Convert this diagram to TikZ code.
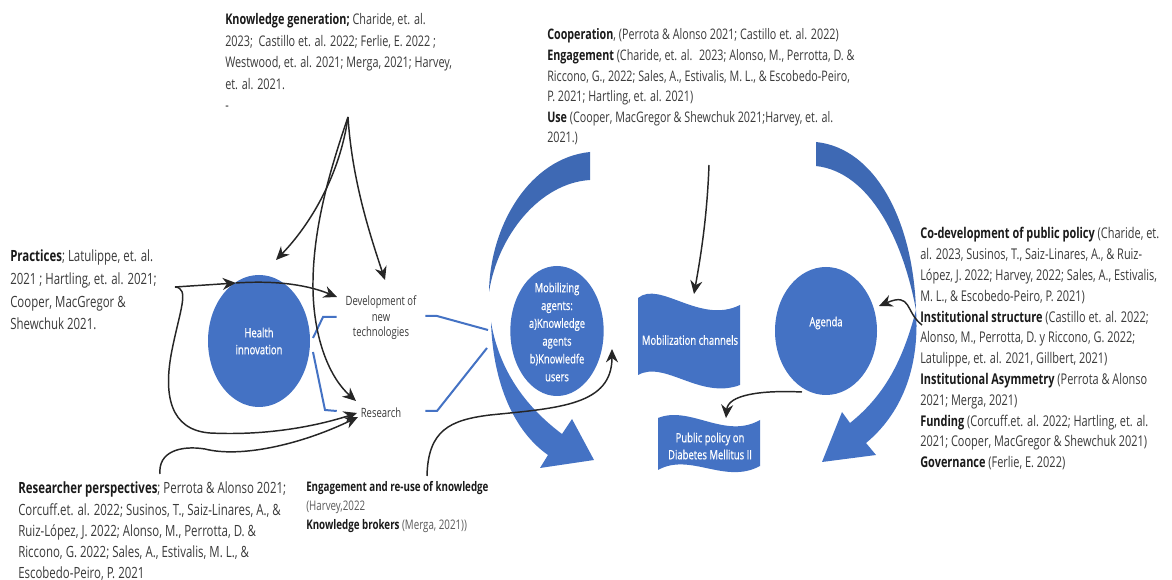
\documentclass[tikz,border=0pt]{standalone}
\usepackage{fontspec}
\setmainfont[FakeStretch=0.74]{Open Sans}
\newfontfamily\wfont[FakeStretch=0.74,FakeBold=0.7]{Open Sans}
\usetikzlibrary{arrows.meta,shapes.geometric,calc}
\definecolor{blu}{HTML}{4472C4}
\definecolor{txtgray}{HTML}{3A3A3A}
\definecolor{ltgray}{HTML}{5A5A5A}
\definecolor{hd}{HTML}{1A1A1A}
\newcommand\hb[1]{{\bfseries\color{hd}#1}}
\newcommand\cit[3]{\fontsize{#1}{#2}\selectfont\begin{tabular}[t]{@{}l@{}}#3\end{tabular}}
\tikzset{
  cite/.style={anchor=base west, inner sep=0pt, text=txtgray},
  ell/.style={ellipse, fill=blu, draw=none, inner sep=0pt},
  wtxt/.style={text=white, align=center, inner sep=0pt},
  blk/.style={text=txtgray, align=center, inner sep=0pt},
  br/.style={draw=blu, line width=1.5pt},
  arr/.style={draw=black!85, line width=1.1pt, -{Stealth[length=10pt,width=9pt]}},
}
\begin{document}
\begin{tikzpicture}[x=0.75pt,y=-0.75pt]
\useasboundingbox (0,0) rectangle (1172,580);
\fill[white] (0,0) rectangle (1172,580);

% ---------- crescents ----------
\fill[blu!92!black] (590,152) .. controls (530,158) and (490,225) .. (489,292)
   .. controls (498,235) and (540,183) .. (590,180) -- cycle;
\fill[blu] (491,322) .. controls (493,385) and (515,432) .. (548,455)
   -- (540,468) -- (594,460) -- (572,419) -- (562,434)
   .. controls (530,410) and (500,375) .. (491,322) -- cycle;
\fill[blu!92!black] (816,142) .. controls (875,148) and (913,220) .. (916,310)
   .. controls (903,240) and (870,172) .. (816,166) -- cycle;
\fill[blu] (916,310) .. controls (920,370) and (900,415) .. (866,443)
   -- (876,455) -- (822,462) -- (842,412) -- (850,423)
   .. controls (885,395) and (903,360) .. (916,310) -- cycle;

% ---------- ellipses ----------
\node[ell, minimum width=76.5pt, minimum height=99pt] (hi) at (259,341) {};
\node[wtxt, font=\wfont\fontsize{9.6}{12.75}\selectfont] (hit) at (259,341) {Health\\innovation};
\node[ell, minimum width=70pt, minimum height=97.5pt] (ma) at (557,331) {};
\node[wtxt, font=\wfont\fontsize{9.5}{13.35}\selectfont] (mat) at (557,332) {Mobilizing\\agents:\\a)Knowledge\\agents\\b)Knowledfe\\users};
\node[ell, minimum width=76.5pt, minimum height=96pt] (ag) at (826,331) {};
\node[wtxt, font=\wfont\fontsize{9.5}{12}\selectfont] (agt) at (826,323) {Agenda};

% ---------- banners ----------
\fill[blu] (638,298) .. controls (660,280) and (700,325) .. (740,305)
   -- (740,385) .. controls (700,400) and (665,360) .. (638,375) -- cycle;
\node[wtxt, font=\wfont\fontsize{9.6}{12}\selectfont] (mc) at (690,340) {Mobilization channels};
\fill[blu] (658,418) .. controls (690,405) and (725,440) .. (760,420)
   -- (760,466) .. controls (725,485) and (690,452) .. (658,470) -- cycle;
\node[wtxt, font=\wfont\fontsize{9.6}{12.75}\selectfont] (pp) at (710,446) {Public policy on\\Diabetes Mellitus II};

% ---------- middle labels ----------
\node[blk, minimum width=66pt, font=\fontsize{9.6}{11.6}\selectfont] (dev) at (381,318) {Development of\\new\\technologies};
\node[blk, minimum width=66pt, font=\fontsize{9.6}{11.6}\selectfont] (res) at (381,413) {Research};

% ---------- blue brackets ----------
\draw[br] (313,338) -- (323,317) -- (dev.west |- 0,317);
\draw[br] (313,352) -- (325,410) -- (res.west |- 0,411);
\coordinate (junc) at (488,330);
\draw[br] (dev.east |- 0,316) -- (437,316) -- (junc);
\draw[br] (res.east |- 0,411) -- (437,411) -- (487,348);

% ---------- citation blocks ----------
\node[cite] (kg) at (225,25) {\cit{11}{16.1}{%
\hb{Knowledge generation;} Charide, et. al.\\
2023;~ Castillo et. al. 2022; Ferlie, E. 2022 ;\\
Westwood, et. al. 2021; Merga, 2021; Harvey,\\
et. al. 2021.\\
-}};
\node[cite] (pr) at (10,262) {\cit{11.6}{17}{%
\hb{Practices}; Latulippe, et. al.\\
2021 ; Hartling, et. al. 2021;\\
Cooper, MacGregor \&\\
Shewchuk 2021.}};
\node[cite] (rp) at (18,494) {\cit{11.6}{15.8}{%
\hb{Researcher perspectives}; Perrota \& Alonso 2021;\\
Corcuff.et. al. 2022; Susinos, T., Saiz-Linares, A., \&\\
Ruiz-López, J. 2022; Alonso, M., Perrotta, D. \&\\
Riccono, G. 2022; Sales, A., Estivalis, M. L., \&\\
Escobedo-Peiro, P. 2021}};
\node[cite] (eg) at (306,492) {\cit{9.9}{13.9}{%
\hb{Engagement and re-use of knowledge}\\
{\color{ltgray}(Harvey,2022}\\
\hb{Knowledge brokers} {\color{ltgray}(Merga, 2021))}}};
\node[cite] (co) at (547,40) {\cit{10.9}{15.4}{%
\hb{Cooperation}, (Perrota \& Alonso 2021; Castillo et. al. 2022)\\
\hb{Engagement} (Charide, et. al.~ 2023; Alonso, M., Perrotta, D. \&\\
Riccono, G., 2022; Sales, A., Estivalis, M. L., \& Escobedo-Peiro,\\
P. 2021; Hartling, et. al. 2021)\\
\hb{Use} (Cooper, MacGregor \& Shewchuk 2021;Harvey, et. al.\\
2021.)}};
\node[cite] (rt) at (920,239) {\cit{11.1}{15.6}{%
\hb{Co-development of public policy} (Charide, et.\\
al. 2023, Susinos, T., Saiz-Linares, A., \& Ruiz-\\
López, J. 2022; Harvey, 2022; Sales, A., Estivalis,\\
M. L., \& Escobedo-Peiro, P. 2021)\\
\hb{Institutional structure} (Castillo et. al. 2022;\\
Alonso, M., Perrotta, D. y Riccono, G. 2022;\\
Latulippe, et. al. 2021, Gillbert, 2021)\\
\hb{Institutional Asymmetry} (Perrota \& Alonso\\
2021; Merga, 2021)\\
\hb{Funding} (Corcuff.et. al. 2022; Hartling, et. al.\\
2021; Cooper, MacGregor \& Shewchuk 2021)\\
\hb{Governance} (Ferlie, E. 2022)}};

% ---------- black arrows ----------
\coordinate (kgr) at (348,117);
\coordinate (prs) at (175,287);
\coordinate (rps) at (160,474);
\coordinate (egs) at (427,476);
\coordinate (cos) at (709,165);
\coordinate (rts) at (922,325);
\coordinate (pmid) at (236,283);
\coordinate (ags) at (802,392);

\draw[arr] (kgr) .. controls (340,175) and (310,225) .. (276,260);
\draw[arr] (kgr) .. controls (352,180) and (370,235) .. (385,280);
\draw[arr] (kgr) .. controls (330,170) and (312,230) .. (313,290)
   .. controls (314,340) and (330,378) .. (356,401);
\draw[arr] (prs) -- (pmid);
\draw[arr] (pmid) .. controls (280,280) and (310,286) .. (337,297);
\draw[arr] (prs) .. controls (190,288) and (180,310) .. (172,350)
   .. controls (163,395) and (170,430) .. (210,433)
   .. controls (270,436) and (320,425) .. (357,413);
\draw[arr] (rps) .. controls (158,452) and (180,445) .. (205,449)
   .. controls (240,458) and (300,445) .. (358,417);
\draw[arr] (egs) .. controls (428,430) and (450,420) .. (490,415)
   .. controls (560,408) and (612,405) .. (612,349);
\draw[arr] (cos) .. controls (707,220) and (700,260) .. (694,294);
\draw[arr] (ags) .. controls (760,390) and (728,395) .. (726,418);
\draw[arr] (rts) .. controls (905,312) and (912,292) .. (879,306);
\end{tikzpicture}
\end{document}
